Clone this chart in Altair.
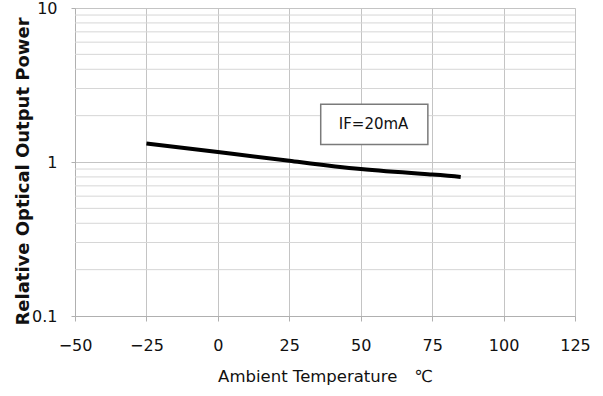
import altair as alt
import pandas as pd

temps = [-25, 0, 25, 50, 75, 85]
power = [1.32, 1.16, 1.02, 0.90, 0.83, 0.80]

x_ticks = [-50, -25, 0, 25, 50, 75, 100, 125]
y_major = [0.1, 1, 10]
y_minor = [0.2, 0.3, 0.4, 0.5, 0.6, 0.7, 0.8, 0.9, 2, 3, 4, 5, 6, 7, 8, 9]

box_x = [36.0]
box_x2 = [73.5]
box_y = [2.37]
box_y2 = [1.30]
label_text = ["IF=20mA"]
label_x = [54.5]
label_y = [1.76]

FONT = "DejaVu Sans"

line_df = pd.DataFrame({"t": temps, "p": power})
minor_df = pd.DataFrame({"v": y_minor})
box_df = pd.DataFrame({"x": box_x, "x2": box_x2, "y": box_y, "y2": box_y2})
lab_df = pd.DataFrame({"x": label_x, "y": label_y, "text": label_text})

xscale = alt.Scale(domain=[-50, 125], nice=False, zero=False)
yscale = alt.Scale(type="log", domain=[0.1, 10], nice=False)

xaxis = alt.Axis(
    values=x_ticks, title="Ambient Temperature\u3000℃", grid=True,
    gridColor="#c4c4c4", gridWidth=1, domainColor="#b0b0b0", tickColor="#b0b0b0",
    tickSize=5, labelPadding=16, labelFlush=False, labelOverlap=False,
    labelFont=FONT, labelFontSize=16, labelColor="#111111",
    titleFont=FONT, titleFontSize=16.5, titleFontWeight="normal", titleColor="#111111",
    titleY=60, titleBaseline="middle",
)
yaxis = alt.Axis(
    values=y_major, title="Relative Optical Output Power", grid=True,
    gridColor="#c4c4c4", gridWidth=1, domainColor="#b0b0b0", tickColor="#b0b0b0",
    tickSize=4, labelPadding=14, labelFlush=False, labelOverlap=False,
    labelExpr="datum.value >= 1 ? format(datum.value, 'd') : format(datum.value, '.1f')",
    labelFont=FONT, labelFontSize=16, labelColor="#111111",
    titleFont=FONT, titleFontSize=18, titleFontWeight="bold", titleColor="#111111",
    titleX=-43, titleY=163,
)

minor = alt.Chart(minor_df).mark_rule(color="#d6d6d6", strokeWidth=1).encode(
    y=alt.Y("v:Q", scale=yscale, axis=yaxis)
)

box = alt.Chart(box_df).mark_rect(fill="white", stroke="#7a7a7a", strokeWidth=1.5).encode(
    x=alt.X("x:Q", scale=xscale, axis=xaxis), x2="x2:Q",
    y=alt.Y("y:Q", scale=yscale, axis=yaxis), y2="y2:Q",
)

text = alt.Chart(lab_df).mark_text(font=FONT, fontSize=15, color="#111111").encode(
    x=alt.X("x:Q", scale=xscale, axis=xaxis),
    y=alt.Y("y:Q", scale=yscale, axis=yaxis),
    text="text:N",
)

line = alt.Chart(line_df).mark_line(color="black", strokeWidth=4, interpolate="natural").encode(
    x=alt.X("t:Q", scale=xscale, axis=xaxis),
    y=alt.Y("p:Q", scale=yscale, axis=yaxis),
)

chart = alt.layer(minor, box, text, line).properties(
    width=500, height=308,
    autosize=alt.AutoSizeParams(type="none"),
    padding={"left": 75, "top": 8, "right": 28, "bottom": 72},
).configure_view(stroke="#b0b0b0", strokeWidth=1).configure(background="white")

chart.save("out.html", embed_options={"renderer": "svg", "actions": False})
